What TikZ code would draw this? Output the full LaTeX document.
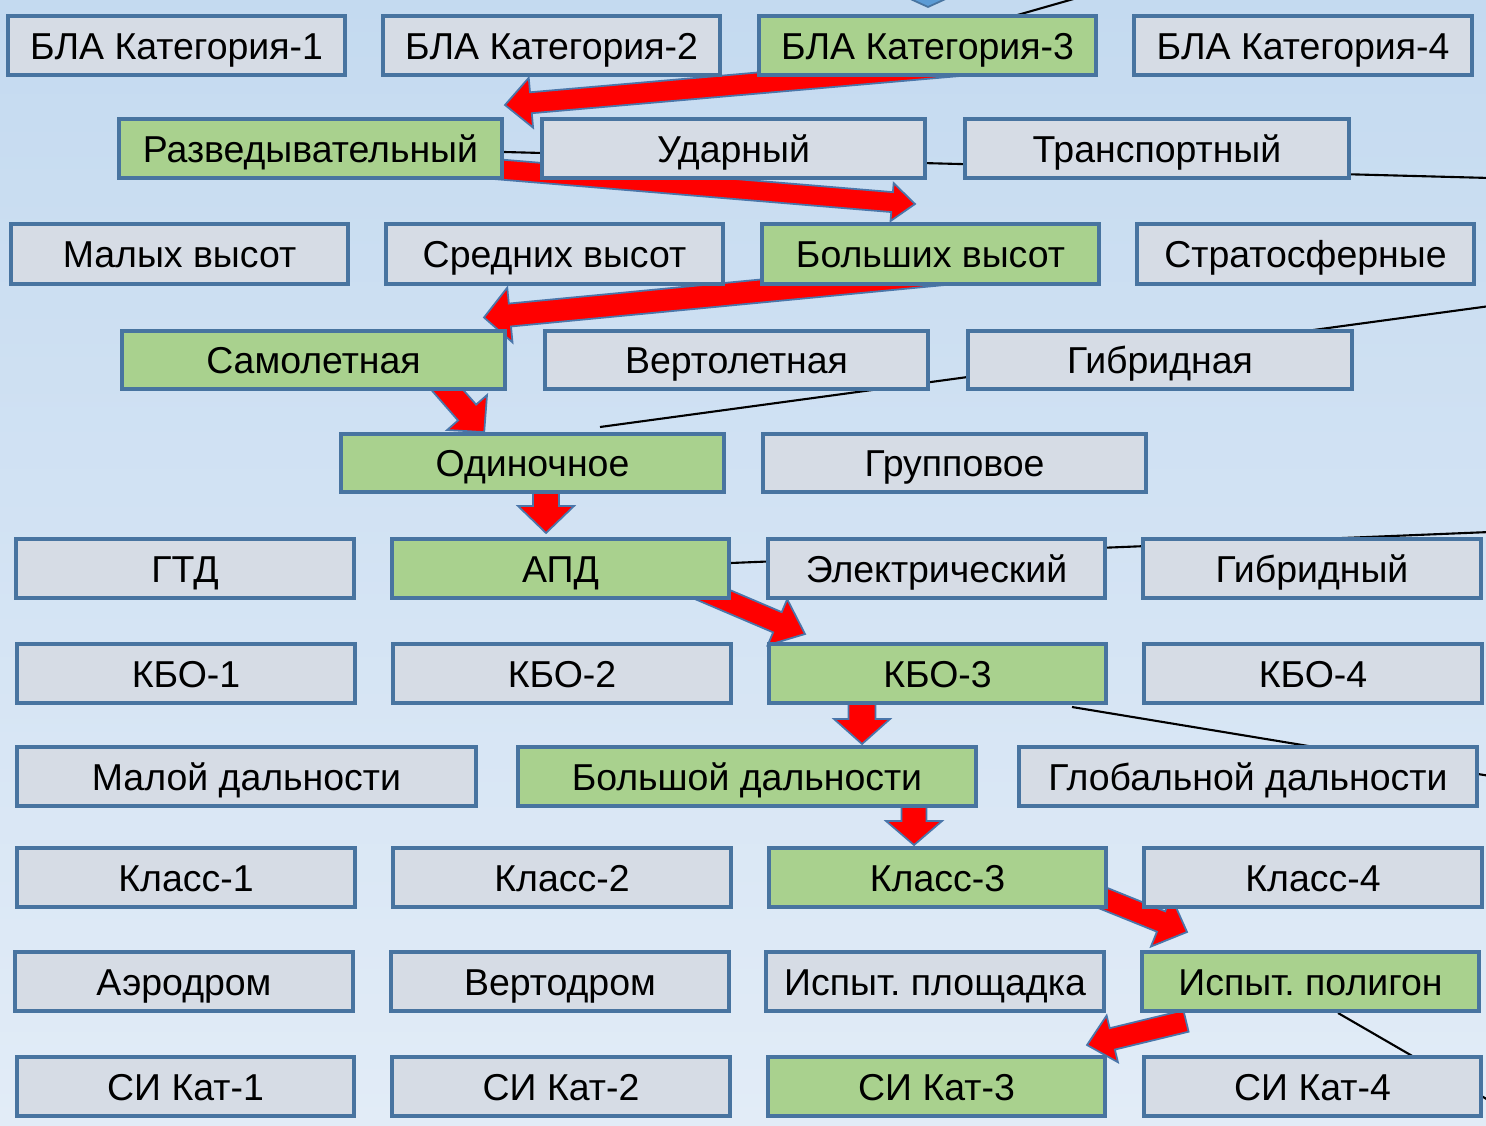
\documentclass[tikz,border=0pt]{standalone}
\usepackage{fontspec}
\setmainfont{Liberation Sans}
\frenchspacing
\usetikzlibrary{calc}
\definecolor{bgtop}{RGB}{196,218,240}
\definecolor{bgmid}{RGB}{244,248,252}
\definecolor{bgbot}{RGB}{226,236,247}
\definecolor{boxedge}{RGB}{72,116,160}
\definecolor{grayfill}{RGB}{214,220,229}
\definecolor{greenfill}{RGB}{169,209,142}
\definecolor{arredge}{RGB}{74,118,170}
\definecolor{bluetip}{RGB}{91,155,213}
\newcommand{\bx}[7]{%
  \pgfmathsetmacro{\bw}{(#4-#2-4)*0.01}%
  \pgfmathsetmacro{\bh}{(#5-#3-4)*0.01}%
  \node[#1, minimum width=\bw cm, minimum height=\bh cm] (#6) at ({(#2+#4)/2},{(#3+#5)/2}) {#7};}
\newcommand{\rarr}[5]{%
  \pgfmathsetlengthmacro{\aw}{#3*0.01cm}%
  \pgfmathsetlengthmacro{\ahw}{#4*0.01cm}%
  \pgfmathsetlengthmacro{\ahl}{#5*0.01cm}%
  \path ($(#2)!\ahl!(#1)$) coordinate (hb);
  \draw[redarrow] ($(#1)!\aw!90:(#2)$) -- ($(hb)!\aw!90:(#2)$) -- ($(hb)!\ahw!90:(#2)$) -- (#2)
    -- ($(hb)!\ahw!-90:(#2)$) -- ($(hb)!\aw!-90:(#2)$) -- ($(#1)!\aw!-90:(#2)$) -- cycle;}
\begin{document}
\begin{tikzpicture}[x=0.01cm,y=-0.01cm,
  basebox/.style={rectangle, draw=boxedge, line width=1.15pt, inner sep=0pt,
    font=\fontsize{10.65pt}{12pt}\selectfont, text=black, text height=7.7pt, text depth=0pt},
  gbox/.style={basebox, fill=grayfill},
  ggbox/.style={basebox, fill=greenfill},
  redarrow/.style={fill=red, draw=arredge, line width=0.5pt, line join=miter},
  thinline/.style={draw=black, line width=0.6pt}]
\useasboundingbox (0,0) rectangle (1486,1125);
\clip (0,0) rectangle (1486,1125);
\shade[top color=bgtop, middle color=bgmid, bottom color=bgbot] (0,0) rectangle (1486,1125);
\draw[draw=boxedge, fill=bluetip, line width=0.5pt] (906,-3) -- (950,-3) -- (928,7) -- cycle;

% free line ends
\coordinate (t0a) at (1000,20);   \coordinate (t0b) at (1105,-10);
\coordinate (l1a) at (1490,178);  \coordinate (l1b) at (504,152);
\coordinate (l2a) at (1490,306);  \coordinate (l2b) at (600,427);
\coordinate (l3a) at (1490,532);  \coordinate (l3b) at (731,563);
\coordinate (l4a) at (1072,707);  \coordinate (l4b) at (1490,776);
\coordinate (l5a) at (1338,1013); \coordinate (l5b) at (1490,1101);
\draw[thinline] (t0a) -- (t0b);
\draw[thinline] (l1a) -- (l1b);
\draw[thinline] (l2a) -- (l2b);
\draw[thinline] (l3a) -- (l3b);
\draw[thinline] (l4a) -- (l4b);
\draw[thinline] (l5a) -- (l5b);

% red arrows (tail, tip)
\coordinate (aT) at (1000,62);   \coordinate (aP) at (505,105);
\coordinate (bT) at (470,167);   \coordinate (bP) at (915,204);
\coordinate (cT) at (960,272);   \coordinate (cP) at (484,317.5);
\coordinate (dT) at (420.8,359.7); \coordinate (dP) at (484.2,432.1);
\coordinate (eT) at (546,470);   \coordinate (eP) at (546,533);
\coordinate (fT) at (690,585);   \coordinate (fP) at (805,634);
\coordinate (gT) at (862,680);   \coordinate (gP) at (862,744);
\coordinate (hT) at (914,785);   \coordinate (hP) at (914,845);
\coordinate (iT) at (1059,880.3); \coordinate (iP) at (1187,932);
\coordinate (jT) at (1186,1021); \coordinate (jP) at (1087,1045);
\rarr{aT}{aP}{10.5}{25}{26}
\rarr{bT}{bP}{10}{19}{23}
\rarr{cT}{cP}{11.5}{27.5}{26}
\rarr{dT}{dP}{12}{26.5}{26}
\rarr{eT}{eP}{13}{28}{27}
\rarr{fT}{fP}{11}{25}{30}
\rarr{gT}{gP}{13.5}{28}{25}
\rarr{hT}{hP}{12.5}{28}{24}
\rarr{iT}{iP}{11}{27}{28}
\rarr{jT}{jP}{11}{24}{26}

% row 1
\bx{gbox}{6}{14}{347}{77}{k1}{БЛА Категория-1}
\bx{gbox}{381}{14}{722}{77}{k2}{БЛА Категория-2}
\bx{ggbox}{757}{14}{1098}{77}{k3}{БЛА Категория-3}
\bx{gbox}{1132}{14}{1474}{77}{k4}{БЛА Категория-4}
% row 2
\bx{ggbox}{117}{117}{504}{180}{razv}{Разведывательный}
\bx{gbox}{540}{117}{927}{180}{udar}{Ударный}
\bx{gbox}{963}{117}{1351}{180}{trans}{Транспортный}
% row 3
\bx{gbox}{9}{222}{350}{286}{malh}{Малых высот}
\bx{gbox}{384}{222}{725}{286}{sredh}{Средних высот}
\bx{ggbox}{760}{222}{1101}{286}{bolh}{Больших высот}
\bx{gbox}{1135}{222}{1476}{286}{strat}{Стратосферные}
% row 4
\bx{ggbox}{120}{329}{507}{391}{samol}{Самолетная}
\bx{gbox}{543}{329}{930}{391}{vert}{Вертолетная}
\bx{gbox}{966}{329}{1354}{391}{gibra}{Гибридная}
% row 5
\bx{ggbox}{339}{432}{726}{494}{odin}{Одиночное}
\bx{gbox}{761}{432}{1148}{494}{grup}{Групповое}
% row 6
\bx{gbox}{14}{537}{356}{600}{gtd}{ГТД}
\bx{ggbox}{390}{537}{731}{600}{apd}{АПД}
\bx{gbox}{766}{537}{1107}{600}{elek}{Электрический}
\bx{gbox}{1141}{537}{1483}{600}{gibr}{Гибридный}
% row 7
\bx{gbox}{15}{642}{357}{705}{kbo1}{КБО-1}
\bx{gbox}{391}{642}{733}{705}{kbo2}{КБО-2}
\bx{ggbox}{767}{642}{1108}{705}{kbo3}{КБО-3}
\bx{gbox}{1142}{642}{1484}{705}{kbo4}{КБО-4}
% row 8
\bx{gbox}{15}{745}{478}{808}{mald}{Малой дальности}
\bx{ggbox}{516}{745}{978}{808}{bold}{Большой дальности}
\bx{gbox}{1017}{745}{1479}{808}{glob}{Глобальной дальности}
% row 9
\bx{gbox}{15}{846}{357}{909}{kl1}{Класс-1}
\bx{gbox}{391}{846}{733}{909}{kl2}{Класс-2}
\bx{ggbox}{767}{846}{1108}{909}{kl3}{Класс-3}
\bx{gbox}{1142}{846}{1484}{909}{kl4}{Класс-4}
% row 10
\bx{gbox}{13}{950}{355}{1013}{aero}{Аэродром}
\bx{gbox}{389}{950}{731}{1013}{vertod}{Вертодром}
\bx{gbox}{764}{950}{1106}{1013}{ispl}{Испыт. площадка}
\bx{ggbox}{1140}{950}{1481}{1013}{ispol}{Испыт. полигон}
% row 11
\bx{gbox}{15}{1055}{356}{1118}{si1}{СИ Кат-1}
\bx{gbox}{390}{1055}{732}{1118}{si2}{СИ Кат-2}
\bx{ggbox}{766}{1055}{1107}{1118}{si3}{СИ Кат-3}
\bx{gbox}{1142}{1055}{1483}{1118}{si4}{СИ Кат-4}
\end{tikzpicture}
\end{document}
